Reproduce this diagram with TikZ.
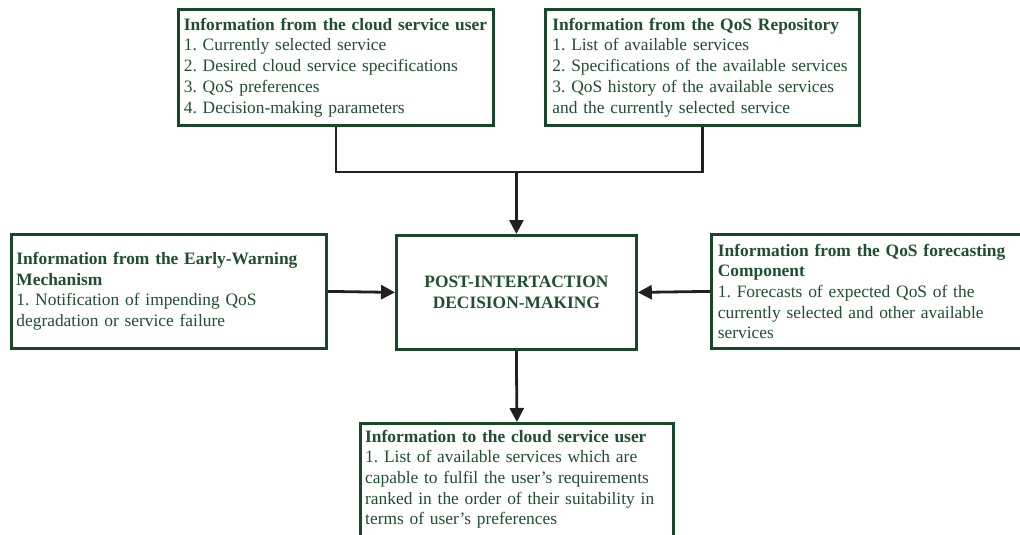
\documentclass[tikz,border=0pt]{standalone}
\usepackage{fontspec}
\setmainfont{Liberation Serif}
\usetikzlibrary{arrows.meta}

\definecolor{boxgreen}{RGB}{24,72,42}
\definecolor{textgreen}{RGB}{30,80,48}
\definecolor{linkdark}{RGB}{35,31,32}

\newcommand\boxfont{\fontsize{17.4}{20.7}\selectfont\frenchspacing\hyphenpenalty=10000 }

\tikzset{
  infobox/.style={draw=boxgreen, line width=2.8pt, fill=white, text=textgreen,
    font=\boxfont, align=left, inner xsep=5pt, inner ysep=0pt, anchor=north west},
  infotext/.style={text=textgreen, font=\boxfont, align=left, inner sep=0pt},
  corebox/.style={draw=boxgreen, line width=2.8pt, fill=white, text=textgreen,
    font=\boxfont\bfseries, align=center, anchor=north west},
  link/.style={draw=linkdark, line width=2.8pt},
  feed/.style={link, -{Triangle[length=14pt,width=14pt]}}
}

\begin{document}
\begin{tikzpicture}[x=1pt, y=-1pt]
\useasboundingbox (0,0) rectangle (1020,535);
\clip (0,0) rectangle (1020,535);

% inputs from the user and the repository
\node[infobox, inner xsep=5.5pt, minimum width=315pt, minimum height=116pt, text width=304pt] (user) at (177,8)
  {\textbf{Information from the cloud service user}\\
   1. Currently selected service\\
   2. Desired cloud service specifications\\
   3. QoS preferences\\
   4. Decision-making parameters};

\node[infobox, inner xsep=7pt, minimum width=314pt, minimum height=116pt, text width=300pt] (repo) at (544,8)
  {\textbf{Information from the QoS Repository}\\
   1. List of available services\\
   2. Specifications of the available services\\
   3. QoS history of the available services\\
   and the currently selected service};

% central decision block
\node[corebox, minimum width=240pt, minimum height=114pt] (core) at (395,234)
  {POST-INTERTACTION\\DECISION-MAKING};

% side inputs
\node[infobox, minimum width=315pt, minimum height=114pt, text width=305pt] (warn) at (10,233)
  {\textbf{Information from the Early-Warning}\\
   \textbf{Mechanism}\\
   1. Notification of impending QoS\\
   degradation or service failure};

\node[infobox, inner xsep=6.5pt, minimum width=318pt, minimum height=114pt, text width=305pt] (fcst) at (710,233)
  {\textbf{Information from the QoS forecasting}\\
   \textbf{Component}\\
   1. Forecasts of expected QoS of the\\
   currently selected and other available\\
   services};

% output to the user
\node[infobox, minimum width=313pt, minimum height=126pt] (out) at (359,422) {};
\node[infotext, anchor=base west, text width=303pt] (outtext)
  at ([xshift=6pt,yshift=-20pt]out.north west)
  {\textbf{Information to the cloud service user}\\
   1. List of available services which are\\
   capable to fulfil the user’s requirements\\
   ranked in the order of their suitability in\\
   terms of user’s preferences};

% connectors
\coordinate (join) at (core.north |- 0,172);
\draw[link] (user.south) |- (join) -| (repo.south);
\draw[feed] (join) -- (core.north);
\draw[feed] (warn.east) -- (core.west);
\draw[feed] (fcst.west) -- (core.east);
\draw[feed] (core.south) -- (out.north);
\end{tikzpicture}
\end{document}
